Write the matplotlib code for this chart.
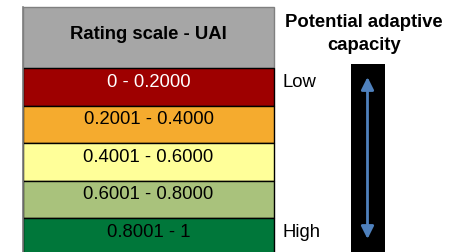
import matplotlib.pyplot as plt
from matplotlib.patches import Rectangle

plt.rcParams['font.family'] = ['Liberation Sans', 'DejaVu Sans']

titulo = "Rating scale - UAI"
faixas = ["0 - 0.2000", "0.2001 - 0.4000", "0.4001 - 0.6000", "0.6001 - 0.8000", "0.8001 - 1"]
cores = ["#9E0000", "#F5AB2E", "#FFFF99", "#A9C27C", "#00773A"]
cores_texto = ["white", "black", "black", "black", "black"]
extremos = ["Low", "High"]

fs = 13.3

fig = plt.figure(figsize=(4.49, 2.53), dpi=100)
ax = fig.add_axes([0, 0, 1, 1])
ax.set_xlim(0, 449)
ax.set_ylim(253, 0)
ax.axis('off')

# cabecalho
x0, x1 = 23, 274
ax.add_patch(Rectangle((x0, 8), x1 - x0, 61, facecolor="#A6A6A6", edgecolor="#808080", lw=1))
ax.text((x0 + x1) / 2, 39, titulo, ha='center', va='baseline', fontsize=fs, fontweight='bold')

# linhas da escala
topo = 69
altura = 37.5
for i in range(len(faixas)):
    y = topo + i * altura
    ax.add_patch(Rectangle((x0, y), x1 - x0, altura + 20 if i == len(faixas) - 1 else altura,
                           facecolor=cores[i], edgecolor="black", lw=1))
    ax.text((x0 + x1) / 2, y + 18, faixas[i], ha='center', va='baseline',
            fontsize=fs, color=cores_texto[i])
ax.plot([x0, x0], [8, 253], color="#7f7f7f", lw=1.2)

# lado direito
ax.text(364, 27, "Potential adaptive", ha='center', va='baseline', fontsize=fs, fontweight='bold')
ax.text(364, 50, "capacity", ha='center', va='baseline', fontsize=fs, fontweight='bold')
ax.text(283, 87, extremos[0], ha='left', va='baseline', fontsize=fs)
ax.text(283, 237, extremos[1], ha='left', va='baseline', fontsize=fs)

ax.add_patch(Rectangle((351, 65), 34, 200, facecolor="black", edgecolor="none"))
ax.annotate("", xy=(367.5, 78), xytext=(367.5, 240),
            arrowprops=dict(arrowstyle='<|-|>,head_length=0.5,head_width=0.25', color="#4F81BD", lw=2,
                            mutation_scale=15, shrinkA=0, shrinkB=0))

fig.savefig("out.png", dpi=100)
